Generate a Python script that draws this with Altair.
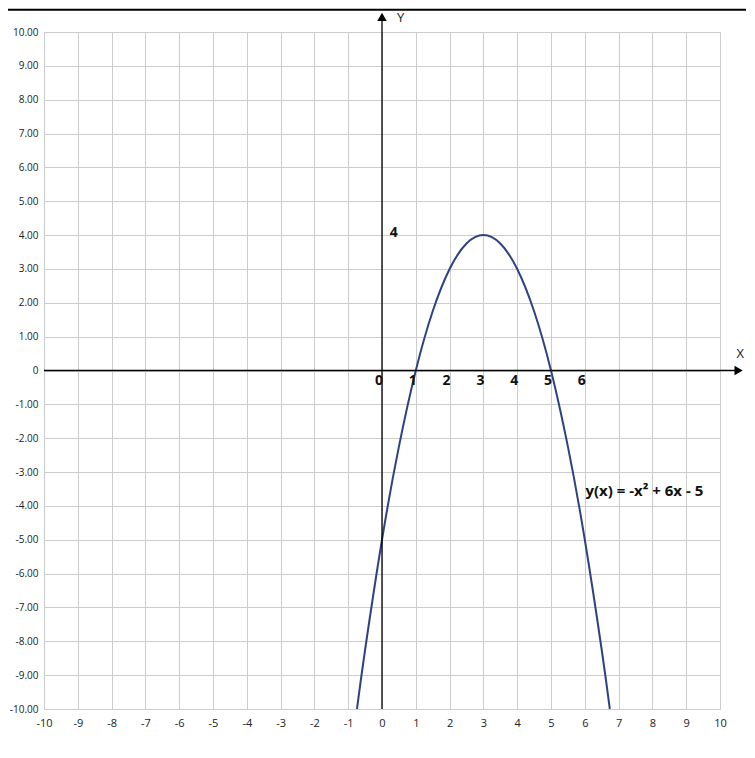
import altair as alt
import pandas as pd

# Curve points
curve_x = [-0.74, -0.5, 0, 0.5, 1, 1.5, 2, 2.5, 3, 3.5, 4, 4.5, 5, 5.5, 6, 6.5, 6.74]
curve_y = [-10, -8.25, -5, -2.25, 0, 1.75, 3, 3.75, 4, 3.75, 3, 1.75, 0, -2.25, -5, -8.25, -10]

# Bold inner labels along the x axis
inner_x_labels = ["0", "1", "2", "3", "4", "5", "6"]
inner_x_pos = [0, 1, 2, 3, 4, 5, 6]

ticks = list(range(-10, 11))
formula_label = "y(x) = -x\u00b2 + 6x - 5"

W, H = 676, 677
FONT = "Open Sans"

xs = alt.Scale(domain=[-10, 10], nice=False, zero=False)
ys = alt.Scale(domain=[-10, 10], nice=False, zero=False)

x_axis = alt.Axis(values=ticks, title=None, grid=True, domain=False, ticks=False,
                  labelOverlap=False, labelFlush=False,
                  labelPadding=8, labelFontSize=11, labelFont=FONT,
                  labelColor="#222222", gridColor="#cccccc", gridWidth=1,
                  labelExpr="(datum.value < 0 ? '-' : '') + abs(datum.value)")
y_axis = alt.Axis(values=ticks, title=None, grid=True, domain=False, ticks=False,
                  labelOverlap=False, labelFlush=False,
                  labelPadding=6, labelFontSize=10, labelFont=FONT,
                  labelColor="#222222", gridColor="#cccccc", gridWidth=1,
                  labelExpr="datum.value == 0 ? '0' : (datum.value < 0 ? '-' : '') + format(abs(datum.value), '.2f')")


def X(f):
    return alt.X(f, type="quantitative", scale=xs, axis=x_axis)


def Y(f):
    return alt.Y(f, type="quantitative", scale=ys, axis=y_axis)


curve_df = pd.DataFrame({"x": curve_x, "y": curve_y})

base = alt.Chart(curve_df).mark_line(
    color="#2c4282", strokeWidth=2, interpolate="natural"
).encode(x=X("x"), y=Y("y"))

# axis lines (x axis at y=0, y axis at x=0) extended beyond the plot
xaxis_df = pd.DataFrame({"x": [-10], "x2": [10.6], "y": [0]})
xaxis = alt.Chart(xaxis_df).mark_rule(color="black", strokeWidth=1.3).encode(
    x=X("x"), x2="x2:Q", y=Y("y"))

yaxis_df = pd.DataFrame({"x": [0], "y": [-10], "y2": [10.45]})
yaxis = alt.Chart(yaxis_df).mark_rule(color="black", strokeWidth=1.3).encode(
    x=X("x"), y=Y("y"), y2="y2:Q")

xarrow = alt.Chart(pd.DataFrame({"x": [10.55], "y": [0]})).mark_point(
    shape="triangle-right", filled=True, color="black", size=90, opacity=1).encode(
    x=X("x"), y=Y("y"))

yarrow = alt.Chart(pd.DataFrame({"x": [0], "y": [10.45]})).mark_point(
    shape="triangle-up", filled=True, color="black", size=90, opacity=1).encode(
    x=X("x"), y=Y("y"))

# top border line
top_df = pd.DataFrame({"x": [-11.1], "x2": [11.0], "y": [10.66]})
topline = alt.Chart(top_df).mark_rule(color="black", strokeWidth=2).encode(
    x=X("x"), x2="x2:Q", y=Y("y"))

# axis names
names_df = pd.DataFrame({"x": [0.55, 10.6], "y": [10.42, 0.5], "t": ["Y", "X"]})
names = alt.Chart(names_df).mark_text(font=FONT, fontSize=13, color="#222222", align="center",
                                      baseline="middle").encode(
    x=X("x"), y=Y("y"), text="t:N")

inner_df = pd.DataFrame({"x": inner_x_pos, "t": inner_x_labels, "y": [-0.32] * len(inner_x_pos)})
inner = alt.Chart(inner_df).mark_text(font=FONT, fontSize=14, fontWeight="bold", color="#111111",
                                      align="center", baseline="middle", dx=-3).encode(
    x=X("x"), y=Y("y"), text="t:N")

four = alt.Chart(pd.DataFrame({"x": [0.35], "y": [4.07], "t": ["4"]})).mark_text(
    font=FONT, fontSize=14, fontWeight="bold", color="#111111", align="center",
    baseline="middle").encode(x=X("x"), y=Y("y"), text="t:N")

formula = alt.Chart(pd.DataFrame({"x": [6.02], "y": [-3.57], "t": [formula_label]})).mark_text(
    font=FONT, fontSize=15, fontWeight="bold", color="#111111", align="left",
    baseline="middle").encode(x=X("x"), y=Y("y"), text="t:N")

chart = alt.layer(base, xaxis, yaxis, xarrow, yarrow, topline, names, inner, four, formula).properties(
    width=W, height=H,
    padding={"left": 36, "top": 24, "right": 26, "bottom": 36},
    autosize=alt.AutoSizeParams(type="none"),
).configure_view(stroke=None).configure(background="white")

chart.save("out.html", embed_options={"renderer": "svg", "actions": False})
